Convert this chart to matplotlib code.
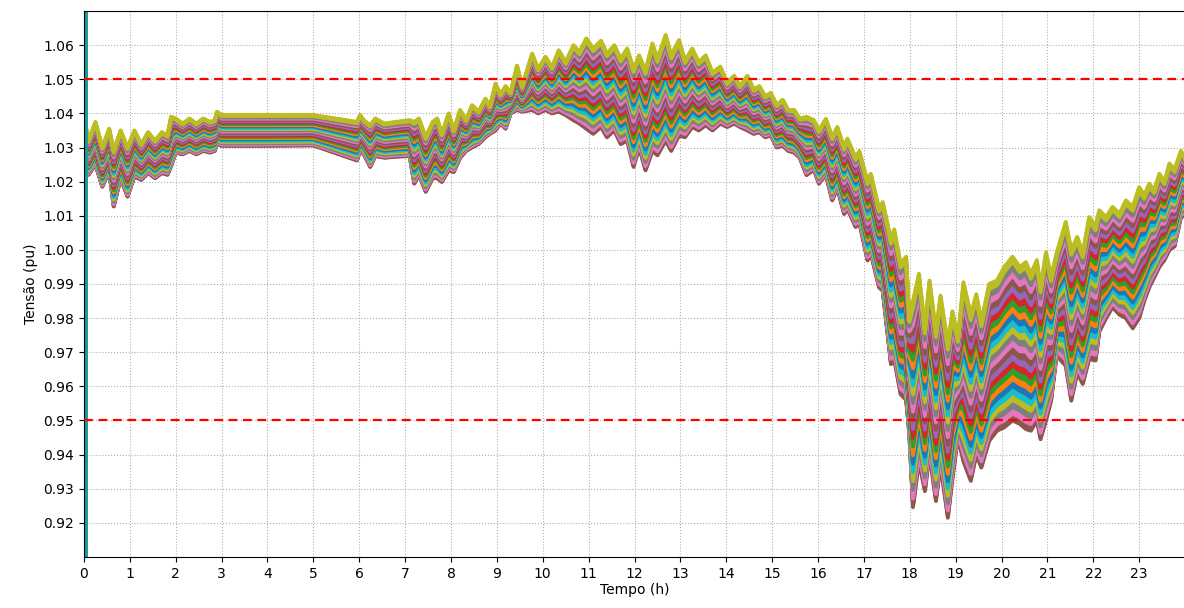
import numpy as np
import matplotlib
matplotlib.use("Agg")
import matplotlib.pyplot as plt
from matplotlib.ticker import FormatStrFormatter

# Time instants (h) and the upper / lower voltage envelope of all buses (pu)
hours = [0.00, 0.10, 0.25, 0.40, 0.55, 0.65, 0.80, 0.95, 1.10, 1.25, 1.40, 1.55, 1.70, 1.82,
         1.90, 2.00, 2.15, 2.30, 2.45, 2.60, 2.75, 2.85, 2.90, 3.00, 4.00, 5.00, 5.95, 6.02,
         6.10, 6.24, 6.35, 6.55, 6.80, 7.10, 7.20, 7.30, 7.45, 7.60, 7.70, 7.80, 7.95, 8.06,
         8.20, 8.33, 8.46, 8.60, 8.75, 8.85, 8.97, 9.08, 9.19, 9.30, 9.44, 9.55, 9.77, 9.90,
         10.06, 10.20, 10.35, 10.50, 10.67, 10.80, 10.95, 11.10, 11.27, 11.40, 11.56, 11.70,
         11.84, 11.98, 12.10, 12.24, 12.39, 12.50, 12.68, 12.80, 12.97, 13.10, 13.26, 13.40,
         13.55, 13.70, 13.87, 14.02, 14.17, 14.30, 14.46, 14.60, 14.72, 14.85, 14.97, 15.10,
         15.23, 15.35, 15.48, 15.60, 15.75, 15.91, 16.02, 16.17, 16.31, 16.42, 16.57, 16.64,
         16.82, 16.90, 17.08, 17.15, 17.33, 17.41, 17.59, 17.66, 17.80, 17.92, 17.99, 18.07,
         18.20, 18.33, 18.43, 18.57, 18.67, 18.83, 18.93, 19.05, 19.17, 19.33, 19.45, 19.56,
         19.73, 19.90, 20.06, 20.24, 20.40, 20.53, 20.64, 20.77, 20.85, 20.97, 21.08, 21.20,
         21.40, 21.52, 21.65, 21.77, 21.91, 22.05, 22.13, 22.28, 22.42, 22.57, 22.71, 22.86,
         23.00, 23.11, 23.22, 23.33, 23.44, 23.55, 23.66, 23.77, 23.91, 24.00]

v_upper = [1.0390, 1.0320, 1.0375, 1.0300, 1.0355, 1.0290, 1.0350, 1.0300, 1.0350, 1.0310,
           1.0345, 1.0320, 1.0345, 1.0335, 1.0390, 1.0385, 1.0370, 1.0385, 1.0370, 1.0385,
           1.0375, 1.0380, 1.0405, 1.0395, 1.0395, 1.0395, 1.0375, 1.0395, 1.0380, 1.0365,
           1.0385, 1.0370, 1.0375, 1.0380, 1.0375, 1.0385, 1.0330, 1.0375, 1.0385, 1.0340,
           1.0400, 1.0350, 1.0410, 1.0380, 1.0424, 1.0405, 1.0443, 1.0420, 1.0487, 1.0455,
           1.0480, 1.0460, 1.0540, 1.0478, 1.0575, 1.0530, 1.0566, 1.0535, 1.0585, 1.0550,
           1.0600, 1.0580, 1.0620, 1.0590, 1.0613, 1.0575, 1.0600, 1.0560, 1.0590, 1.0530,
           1.0570, 1.0525, 1.0605, 1.0560, 1.0630, 1.0570, 1.0615, 1.0555, 1.0590, 1.0550,
           1.0570, 1.0520, 1.0537, 1.0490, 1.0510, 1.0480, 1.0510, 1.0470, 1.0480, 1.0450,
           1.0460, 1.0425, 1.0440, 1.0410, 1.0410, 1.0385, 1.0390, 1.0380, 1.0350, 1.0384,
           1.0330, 1.0360, 1.0300, 1.0326, 1.0270, 1.0290, 1.0200, 1.0223, 1.0120, 1.0140,
           1.0030, 1.0060, 0.9960, 0.9980, 0.9800, 0.9850, 0.9930, 0.9770, 0.9910, 0.9760,
           0.9866, 0.9724, 0.9820, 0.9740, 0.9905, 0.9810, 0.9870, 0.9790, 0.9900, 0.9910,
           0.9950, 0.9980, 0.9950, 0.9964, 0.9930, 0.9970, 0.9890, 0.9993, 0.9920, 0.9990,
           1.0082, 1.0000, 1.0038, 0.9990, 1.0096, 1.0070, 1.0116, 1.0096, 1.0126, 1.0106,
           1.0145, 1.0126, 1.0184, 1.0160, 1.0194, 1.0175, 1.0223, 1.0200, 1.0253, 1.0235,
           1.0290, 1.0270]

v_lower = [1.0260, 1.0220, 1.0250, 1.0185, 1.0230, 1.0127, 1.0210, 1.0156, 1.0215, 1.0205,
           1.0225, 1.0210, 1.0225, 1.0220, 1.0245, 1.0285, 1.0280, 1.0290, 1.0280, 1.0290,
           1.0285, 1.0290, 1.0310, 1.0305, 1.0305, 1.0306, 1.0262, 1.0290, 1.0280, 1.0243,
           1.0275, 1.0270, 1.0273, 1.0275, 1.0194, 1.0220, 1.0170, 1.0210, 1.0210, 1.0199,
           1.0233, 1.0228, 1.0270, 1.0290, 1.0300, 1.0310, 1.0330, 1.0340, 1.0350, 1.0370,
           1.0355, 1.0400, 1.0410, 1.0405, 1.0410, 1.0400, 1.0410, 1.0400, 1.0405, 1.0395,
           1.0380, 1.0370, 1.0355, 1.0340, 1.0360, 1.0330, 1.0350, 1.0310, 1.0320, 1.0243,
           1.0300, 1.0233, 1.0290, 1.0277, 1.0320, 1.0290, 1.0335, 1.0330, 1.0360, 1.0350,
           1.0365, 1.0350, 1.0370, 1.0360, 1.0370, 1.0360, 1.0350, 1.0340, 1.0345, 1.0330,
           1.0335, 1.0300, 1.0305, 1.0290, 1.0285, 1.0270, 1.0219, 1.0235, 1.0194, 1.0220,
           1.0145, 1.0180, 1.0105, 1.0120, 1.0067, 1.0080, 0.9969, 0.9990, 0.9890, 0.9880,
           0.9665, 0.9680, 0.9577, 0.9560, 0.9460, 0.9246, 0.9380, 0.9293, 0.9400, 0.9264,
           0.9370, 0.9215, 0.9330, 0.9450, 0.9380, 0.9323, 0.9400, 0.9362, 0.9440, 0.9470,
           0.9480, 0.9500, 0.9490, 0.9475, 0.9470, 0.9500, 0.9445, 0.9500, 0.9558, 0.9690,
           0.9660, 0.9558, 0.9640, 0.9607, 0.9680, 0.9676, 0.9760, 0.9800, 0.9832, 0.9810,
           0.9800, 0.9770, 0.9800, 0.9850, 0.9890, 0.9920, 0.9950, 0.9970, 1.0000, 1.0010,
           1.0096, 1.0100]

# Relative electrical depth of each bus between the two envelopes
bus_depth = np.linspace(0.0, 1.0, 96)
buses_per_feeder = 4

v_max_limit = 1.05
v_min_limit = 0.95

t = np.asarray(hours)
up = np.asarray(v_upper)
lo = np.asarray(v_lower)

fig = plt.figure(figsize=(11.84, 6.08), dpi=100)
ax = fig.add_axes([0.0709, 0.0839, 0.9300, 0.8980])

colors = plt.rcParams["axes.prop_cycle"].by_key()["color"]
for i, d in enumerate(bus_depth):
    feeder = i // buses_per_feeder
    ax.plot(t, lo + d * (up - lo), color=colors[(feeder + 5) % len(colors)], lw=2.8,
            solid_capstyle="round", zorder=2)

ax.axvline(0, color="#1a9c9c", lw=5.0, zorder=2.2)
ax.axhline(v_max_limit, color="red", ls="--", lw=1.6, dashes=(4, 2.5), zorder=3)
ax.axhline(v_min_limit, color="red", ls="--", lw=1.6, dashes=(4, 2.5), zorder=3)

ax.set_xlim(0, 24)
ax.set_ylim(0.91, 1.07)
ax.set_xticks(range(24))
ax.set_yticks(np.round(np.arange(0.92, 1.0601, 0.01), 2))
ax.yaxis.set_major_formatter(FormatStrFormatter("%.2f"))
ax.grid(True, ls=":", color="#b0b0b0", lw=0.8)
ax.set_axisbelow(True)
ax.spines["right"].set_visible(False)
ax.set_xlabel("Tempo (h)", labelpad=2)
ax.set_ylabel("Tensão (pu)")

fig.savefig("out.png", dpi=100)
